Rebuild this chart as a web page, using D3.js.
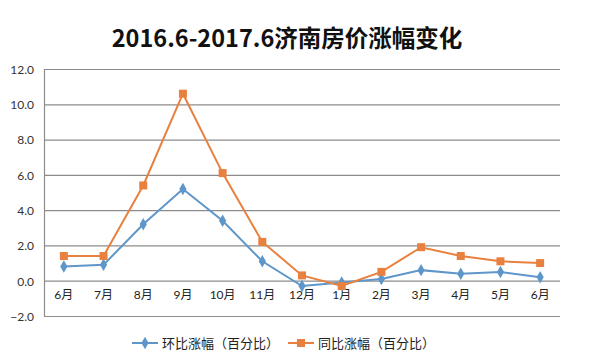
<!DOCTYPE html>
<html><head><meta charset="utf-8">
<script src="https://cdn.jsdelivr.net/npm/d3@7/dist/d3.min.js"></script>
<style>body{margin:0;background:#fff}svg{display:block}</style>
</head><body><svg id="c" width="596" height="361"></svg>
<script>
const categories = ["6月","7月","8月","9月","10月","11月","12月","1月","2月","3月","4月","5月","6月"];
const momValues = [0.8,0.9,3.2,5.2,3.4,1.1,-0.3,-0.1,0.1,0.6,0.4,0.5,0.2];
const yoyValues = [1.4,1.4,5.4,10.6,6.1,2.2,0.3,-0.3,0.5,1.9,1.4,1.1,1.0];
const yTicks = [-2,0,2,4,6,8,10,12];
const seriesNames = ["环比涨幅（百分比）","同比涨幅（百分比）"];
const title = "2016.6-2017.6济南房价涨幅变化";

const svg = d3.select("#c");
const m = {l:44, r:560, t:69, b:316};
const x = d3.scaleBand().domain(d3.range(categories.length)).range([m.l, m.r]);
const y = d3.scaleLinear().domain([-2,12]).range([m.b, m.t]);
const font = "Lato, 'Noto Sans CJK SC', sans-serif";

svg.append("text").attr("x",287).attr("y",47).attr("text-anchor","middle")
  .attr("font-family","'Noto Sans CJK SC', sans-serif").attr("font-weight","bold")
  .attr("font-size",23.5).attr("fill","#111").text(title);

// gridlines
svg.append("g").selectAll("line").data(yTicks).join("line")
  .attr("x1",m.l).attr("x2",m.r).attr("y1",d=>y(d)+0.5).attr("y2",d=>y(d)+0.5)
  .attr("stroke","#8c8c8c").attr("stroke-width",1.2);
// y axis line
svg.append("line").attr("x1",m.l+0.5).attr("x2",m.l+0.5).attr("y1",m.t).attr("y2",m.b)
  .attr("stroke","#8c8c8c").attr("stroke-width",1.2);

const yAxis = d3.axisLeft(y).tickValues(yTicks).tickFormat(d3.format(".1f")).tickSize(0).tickPadding(10);
const ga = svg.append("g").attr("transform",`translate(${m.l},0.5)`).call(yAxis);
ga.select(".domain").remove();
ga.selectAll("text").attr("font-family",font).attr("font-size",12).attr("fill","#333");

const xAxis = d3.axisBottom(x).tickFormat(i=>categories[i]).tickSize(0).tickPadding(10);
const gx = svg.append("g").attr("transform",`translate(0,${y(0)})`).call(xAxis);
gx.select(".domain").remove();
gx.selectAll("text").attr("font-family",font).attr("font-size",12).attr("fill","#222");

const cx = i => x(i)+x.bandwidth()/2;
const line = d3.line().x((d,i)=>cx(i)).y(d=>y(d));
const blue = "#5f96c9", orange = "#e8813f";

svg.append("path").datum(momValues).attr("d",line).attr("fill","none").attr("stroke",blue).attr("stroke-width",2);
svg.append("path").datum(yoyValues).attr("d",line).attr("fill","none").attr("stroke",orange).attr("stroke-width",2);

const diamond = d3.symbol().type(d3.symbolDiamond).size(45);
svg.append("g").selectAll("path").data(momValues).join("path")
  .attr("d",diamond).attr("transform",(d,i)=>`translate(${cx(i)},${y(d)})`).attr("fill",blue);
svg.append("g").selectAll("rect").data(yoyValues).join("rect")
  .attr("x",(d,i)=>cx(i)-4).attr("y",d=>y(d)-4).attr("width",8).attr("height",8).attr("fill",orange);

// legend
const lg = svg.append("g").attr("font-family","'Noto Sans CJK SC', sans-serif").attr("font-size",13).attr("fill","#222");
const items = [{x1:132,color:blue,marker:"d"},{x1:288,color:orange,marker:"s"}];
items.forEach((it,k)=>{
  const ly = 343;
  lg.append("line").attr("x1",it.x1).attr("x2",it.x1+26).attr("y1",ly).attr("y2",ly).attr("stroke",it.color).attr("stroke-width",2);
  if(it.marker==="d") lg.append("path").attr("d",diamond).attr("transform",`translate(${it.x1+13},${ly})`).attr("fill",it.color);
  else lg.append("rect").attr("x",it.x1+9).attr("y",ly-4).attr("width",8).attr("height",8).attr("fill",it.color);
  lg.append("text").attr("x",it.x1+30).attr("y",ly+5).text(seriesNames[k]);
});
</script></body></html>
